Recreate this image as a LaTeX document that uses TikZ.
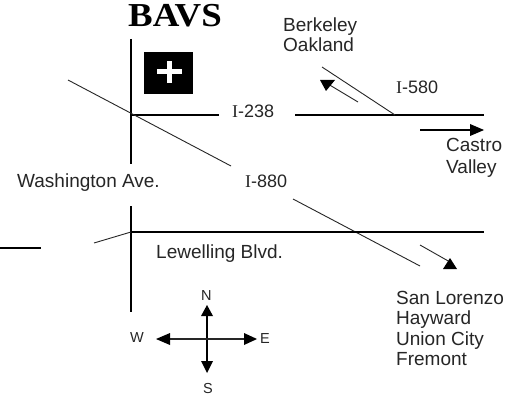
\documentclass[tikz,border=0pt]{standalone}
\usepackage{fontspec}
\setmainfont{Liberation Sans}
\newfontfamily\serifbold{Liberation Serif}
\newfontfamily\titlefont[FakeStretch=1.1]{Liberation Serif Bold}
\tikzset{
  road/.style={line width=1.3pt,black},
  diag/.style={line width=0.9pt,black!85},
  lab/.style={anchor=base west,inner sep=0pt,font=\fontsize{19}{20}\selectfont,text=black!85},
  hwy/.style={anchor=base west,inner sep=0pt,font=\fontsize{18}{20}\selectfont,text=black!85},
  small/.style={anchor=base west,inner sep=0pt,font=\fontsize{14.5}{15}\selectfont,text=black!85},
  head/.style={fill=black,draw=none}
}
\begin{document}
\begin{tikzpicture}[x=1pt,y=-1pt]
\useasboundingbox[fill=white] (0,0) rectangle (516,398);
% roads
\draw[road] (131,39) -- (131,164);
\draw[road] (131,206) -- (131,312);
\draw[road] (131,115) -- (219,115);
\draw[road] (295,115) -- (484,115);
\draw[diag] (68,80) -- (231,166);
\draw[diag] (293,199) -- (420,266);
\draw[road] (131,232) -- (484,232);
\draw[diag] (94,243) -- (131,232);
\draw[road] (0,248) -- (41,248);
\draw[diag] (322,67) -- (395,115);
% direction arrows
\draw[diag] (358,102) -- (328,84);
\fill[head] (320,80) -- (335,80) -- (326,91) -- cycle;
\draw[road] (420,130) -- (472,130);
\fill[head] (470,124) -- (484,130) -- (470,136) -- cycle;
\draw[diag] (420,245) -- (450,262);
\fill[head] (450,258) -- (443,269) -- (457,269) -- cycle;
% compass
\draw[road] (207,312) -- (207,365);
\draw[diag,line width=1.1pt] (165,339) -- (248,339);
\fill[head] (207,305) -- (213,316) -- (201,316) -- cycle;
\fill[head] (207,373) -- (213,361) -- (201,361) -- cycle;
\fill[head] (156,339) -- (170,333) -- (170,345) -- cycle;
\fill[head] (257,339) -- (244,333) -- (244,345) -- cycle;
% plus box
\fill[black] (144,52) rectangle (193,94);
\fill[white] (157,69.5) rectangle (182,74.5);
\fill[white] (167,61) rectangle (172,83);
% text
\node[anchor=base west,inner sep=0pt,font=\fontsize{33.5}{36}\selectfont\titlefont] (title) at (128,27) {BAVS};
\node[lab] (berk) at (283,32) {Berkeley};
\node[lab] (oak) at (283,52) {Oakland};
\node[hwy] (i580) at (396,94) {{\serifbold I}-580};
\node[hwy] (i238) at (232,118) {{\serifbold I}-238};
\node[hwy] (i880) at (245,187) {{\serifbold I}-880};
\node[lab] (castro) at (446,152) {Castro};
\node[lab] (valley) at (446,173) {Valley};
\node[lab] (wash) at (17,187) {Washington Ave.};
\node[lab] (lew) at (156,258) {Lewelling Blvd.};
\node[lab] (sl) at (396,304) {San Lorenzo};
\node[lab] (hay) at (396,324) {Hayward};
\node[lab] (uc) at (396,345) {Union City};
\node[lab] (fre) at (396,365) {Fremont};
\node[small] (n) at (201,300) {N};
\node[small] (w) at (130,342) {W};
\node[small] (e) at (260,343) {E};
\node[small] (s) at (203,393) {S};
\end{tikzpicture}
\end{document}
